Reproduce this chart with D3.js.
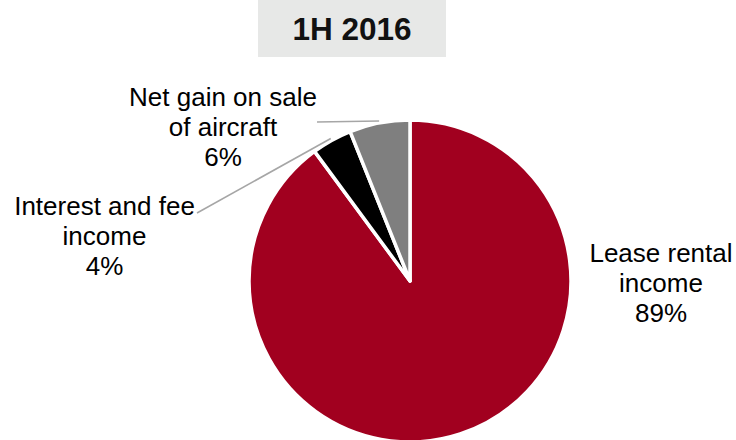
<!DOCTYPE html>
<html>
<head>
<meta charset="utf-8">
<script src="https://cdn.jsdelivr.net/npm/d3@7"></script>
<style>
  html, body { margin: 0; padding: 0; background: #fff; }
  svg { display: block; font-family: "Liberation Sans", Arial, sans-serif; }
</style>
</head>
<body>
<svg id="chart" width="736" height="440"></svg>
<script>
// Revenue mix, first half of 2016
const title = "1H 2016";
const categories = ["Lease rental income", "Interest and fee income", "Net gain on sale of aircraft"];
const shares = [89, 4, 6];
const labelLines = [
  ["Lease rental", "income"],
  ["Interest and fee", "income"],
  ["Net gain on sale", "of aircraft"]
];
const colors = ["#A1001F", "#000000", "#7F7F7F"];

const svg = d3.select("#chart");
const W = 736, H = 440;
const cx = 410, cy = 281, R = 161;

// Title banner
svg.append("rect")
  .attr("x", 258).attr("y", 0).attr("width", 188).attr("height", 57)
  .attr("fill", "#E7E8E7");
svg.append("text")
  .attr("x", 352).attr("y", 39.5)
  .attr("text-anchor", "middle")
  .attr("font-size", 31.5).attr("font-weight", "bold")
  .attr("fill", "#111")
  .text(title);

const data = categories.map((c, i) => ({ name: c, value: shares[i], lines: labelLines[i], color: colors[i] }));

const pie = d3.pie().value(d => d.value).sort(null);
const arcs = pie(data);
const arc = d3.arc().innerRadius(0).outerRadius(R);

const g = svg.append("g").attr("transform", `translate(${cx},${cy})`);
g.selectAll("path.slice")
  .data(arcs)
  .join("path")
  .attr("class", "slice")
  .attr("d", arc)
  .attr("fill", d => d.data.color)
  .attr("stroke", "#fff")
  .attr("stroke-width", 3.5)
  .attr("stroke-linejoin", "round");

// Label anchors (label block centre, first baseline) and leader-line starts
const labelPos = [
  { x: 661, y: 262, lead: null },
  { x: 104.5, y: 215, lead: [197, 213] },
  { x: 223, y: 106, lead: [317, 122] }
];
const lineGap = 30;

const fmt = d => d + "%";

arcs.forEach((a, i) => {
  const p = labelPos[i];
  const t = svg.append("text")
    .attr("text-anchor", "middle")
    .attr("font-size", 26)
    .attr("fill", "#000");
  const lines = a.data.lines.concat([fmt(a.data.value)]);
  lines.forEach((ln, k) => {
    t.append("tspan").attr("x", p.x).attr("y", p.y + k * lineGap).text(ln);
  });
  if (p.lead) {
    const mid = (a.startAngle + a.endAngle) / 2;
    const r2 = R + 2;
    const ex = cx + r2 * Math.sin(mid);
    const ey = cy - r2 * Math.cos(mid);
    svg.append("line")
      .attr("x1", p.lead[0]).attr("y1", p.lead[1])
      .attr("x2", ex).attr("y2", ey)
      .attr("stroke", "#A6A6A6")
      .attr("stroke-width", 1.6);
  }
});
</script>
</body>
</html>
